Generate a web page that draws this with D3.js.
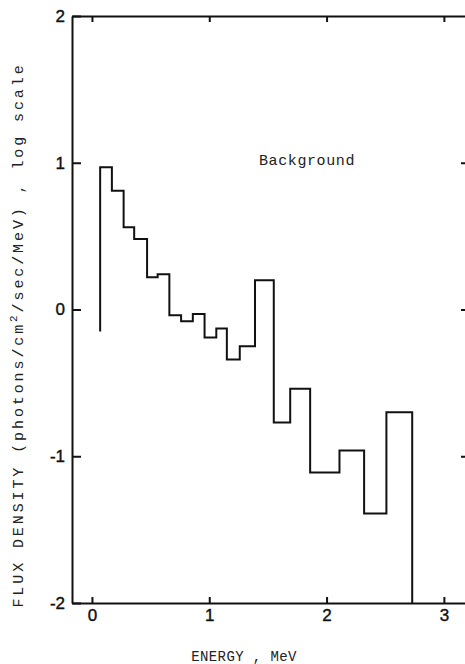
<!DOCTYPE html>
<html>
<head>
<meta charset="utf-8">
<script src="https://cdn.jsdelivr.net/npm/d3@7/dist/d3.min.js"></script>
<style>
  html, body { margin: 0; padding: 0; background: #fff; }
  svg { display: block; }
  .tick text { font-family: "Liberation Sans", Arial, sans-serif; font-size: 17px; fill: #111; stroke: #111; stroke-width: 0.4px; }
  .mono { font-family: "Liberation Mono", "DejaVu Sans Mono", monospace; fill: #222; }
</style>
</head>
<body>
<svg id="chart" width="465" height="664"></svg>
<script>
// Bin edges of the background spectrum (MeV)
const binEdges = [0.07, 0.17, 0.27, 0.36, 0.47, 0.56, 0.66, 0.76, 0.86, 0.96,
                  1.06, 1.15, 1.26, 1.39, 1.55, 1.69, 1.86, 2.11, 2.32, 2.51, 2.73];
// log10 of flux density in each bin
const logFlux = [0.97, 0.81, 0.56, 0.48, 0.22, 0.24, -0.04, -0.08, -0.03, -0.19,
                 -0.13, -0.34, -0.25, 0.20, -0.77, -0.54, -1.11, -0.96, -1.39, -0.70];
// value where the histogram outline starts and ends
const startLevel = -0.15;
const endLevel = -2;

const xTicks = [0, 1, 2, 3];
const yTicks = [-2, -1, 0, 1, 2];

const svg = d3.select("#chart");
const W = 465, H = 664;
const padLeft = 72, padTop = 16, axisBottomY = 603;

const x = d3.scaleLinear().domain([-0.17, 3.18]).range([padLeft, W]);
const y = d3.scaleLinear().domain([-2, 2]).range([axisBottomY, padTop]);

// Step outline: start at the first edge, then a flat run for each bin
const pts = [[binEdges[0], startLevel]];
logFlux.forEach((v, i) => {
  pts.push([binEdges[i], v]);
  pts.push([binEdges[i + 1], v]);
});
pts.push([binEdges[binEdges.length - 1], endLevel]);

svg.append("path")
  .datum(pts)
  .attr("fill", "none")
  .attr("stroke", "#111")
  .attr("stroke-width", 2)
  .attr("stroke-linejoin", "miter")
  .attr("d", d3.line().x(d => x(d[0])).y(d => y(d[1])));

// Axes
const fmt = d => d3.format("d")(d).replace("\u2212", "-");

const gBottom = svg.append("g").attr("transform", `translate(0,${axisBottomY})`)
  .call(d3.axisBottom(x).tickValues(xTicks).tickSizeInner(-6).tickSizeOuter(0).tickPadding(5).tickFormat(fmt));
const gTop = svg.append("g").attr("transform", `translate(0,${padTop})`)
  .call(d3.axisTop(x).tickValues(xTicks).tickSizeInner(-6).tickSizeOuter(0).tickFormat(""));
const gLeft = svg.append("g").attr("transform", `translate(${padLeft},0)`)
  .call(d3.axisLeft(y).tickValues(yTicks).tickSizeInner(-9).tickSizeOuter(0).tickPadding(7).tickFormat(fmt));
const gRight = svg.append("g").attr("transform", `translate(${W},0)`)
  .call(d3.axisRight(y).tickValues([-1, 0, 1]).tickSizeInner(-4).tickSizeOuter(0).tickFormat(""));

[gBottom, gTop, gLeft, gRight].forEach(g => {
  g.select(".domain").attr("stroke", "#111").attr("stroke-width", 2);
  g.selectAll(".tick line").attr("stroke", "#111").attr("stroke-width", 2);
});
gRight.select(".domain").remove();
gBottom.selectAll(".tick text").attr("dy", "0.75em");

// Titles
svg.append("text").attr("class", "mono")
  .attr("x", 307).attr("y", 165).attr("text-anchor", "middle")
  .attr("font-size", 15).attr("letter-spacing", 0.6)
  .text("Background");

svg.append("text").attr("class", "mono")
  .attr("x", 244).attr("y", 661).attr("text-anchor", "middle")
  .attr("font-size", 14).attr("letter-spacing", 0.4)
  .text("ENERGY , MeV");

const yl = svg.append("text").attr("class", "mono")
  .attr("transform", "translate(23,335) rotate(-90)")
  .attr("text-anchor", "middle")
  .attr("font-size", 15).attr("letter-spacing", 2.9);
yl.append("tspan").text("FLUX DENSITY (photons/cm");
yl.append("tspan").attr("dy", -6).attr("font-size", 11).text("2");
yl.append("tspan").attr("dy", 6).text("/sec/MeV) , log scale");
</script>
</body>
</html>
